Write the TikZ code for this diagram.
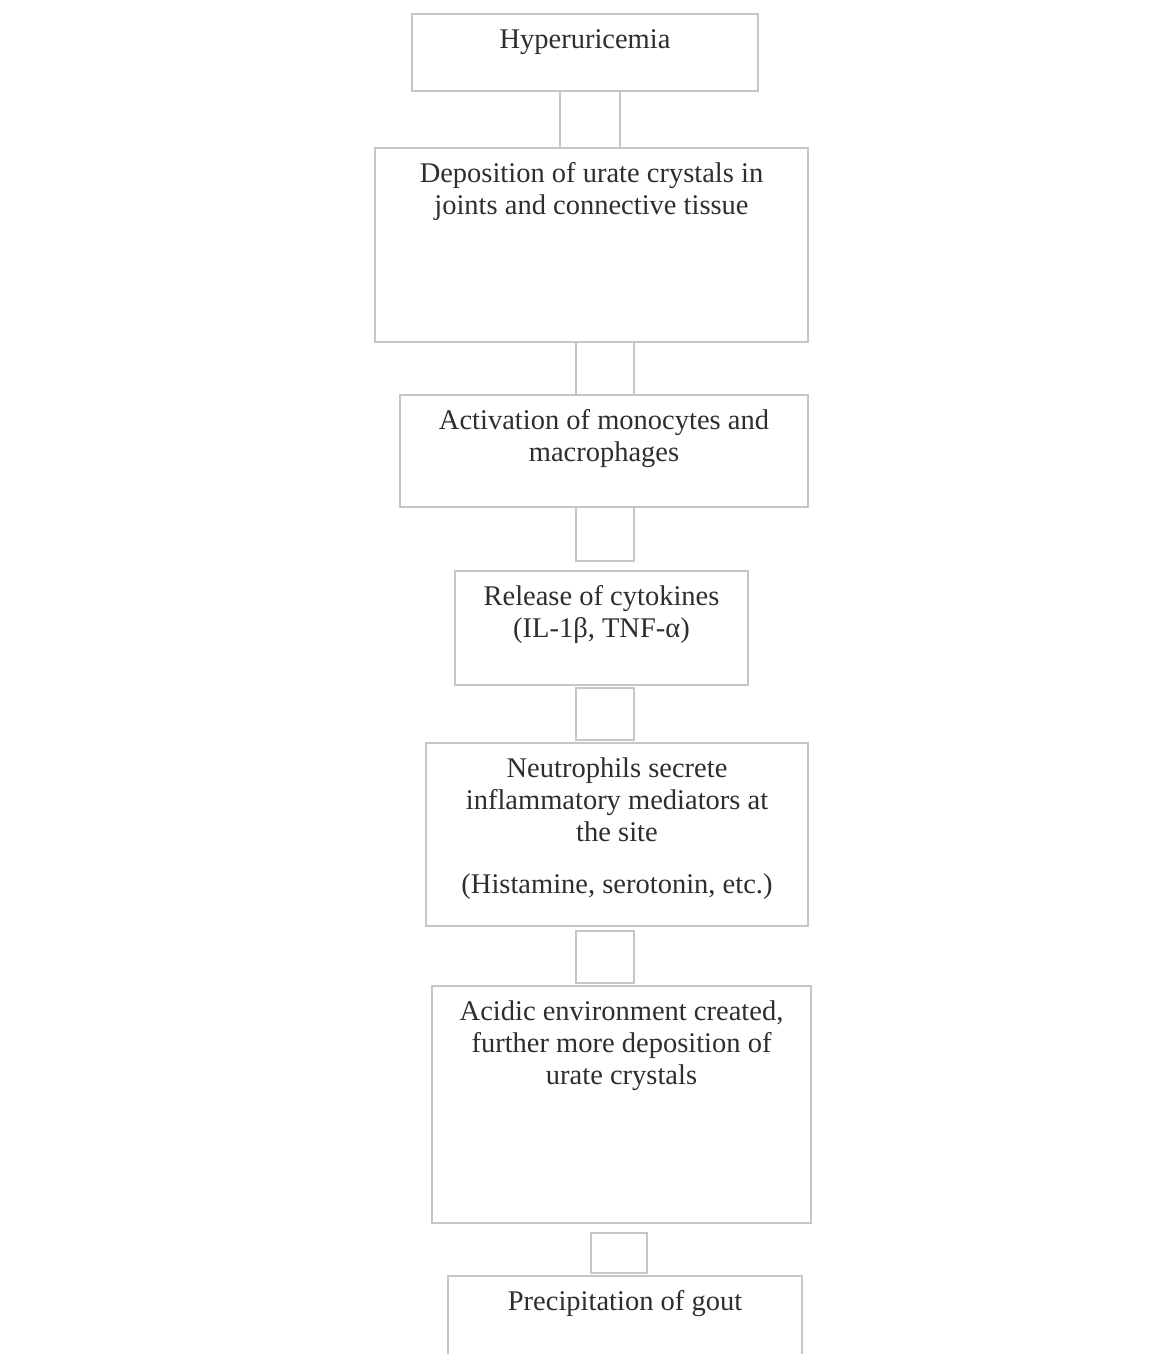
\documentclass[tikz,border=0pt]{standalone}
\usepackage{fontspec}
\setmainfont{Liberation Serif}
\definecolor{linegray}{HTML}{C6C6C6}
\definecolor{textgray}{HTML}{2E2E2E}
\begin{document}
\begin{tikzpicture}[x=1pt,y=-1pt,
  box/.style={draw=linegray, line width=1.1pt, fill=white, rectangle, inner sep=0pt},
  link/.style={draw=linegray, line width=1.1pt, fill=white, rectangle, inner sep=0pt},
  txt/.style={anchor=north, inner sep=0pt, align=center, text=textgray,
    font=\fontsize{28.5}{32}\selectfont, yshift=-12.4pt}]
\useasboundingbox[fill=white] (0,0) rectangle (1167,1354);
% boxes
\node[box, minimum width=346pt, minimum height=77pt]  (b1) at (585,52.5) {};
\node[link, minimum width=60pt, minimum height=57pt]  (c1) at (590,119.5) {};
\node[box, minimum width=433pt, minimum height=194pt] (b2) at (591.5,245) {};
\node[link, minimum width=58pt, minimum height=53pt]  (c2) at (605,368.5) {};
\node[box, minimum width=408pt, minimum height=112pt] (b3) at (604,451) {};
\node[link, minimum width=58pt, minimum height=54pt]  (c3) at (605,534) {};
\node[box, minimum width=293pt, minimum height=114pt] (b4) at (601.5,628) {};
\node[link, minimum width=58pt, minimum height=52pt]  (c4) at (605,714) {};
\node[box, minimum width=382pt, minimum height=183pt] (b5) at (617,834.5) {};
\node[link, minimum width=58pt, minimum height=52pt]  (c5) at (605,957) {};
\node[box, minimum width=379pt, minimum height=237pt] (b6) at (621.5,1104.5) {};
\node[link, minimum width=56pt, minimum height=40pt]  (c6) at (619,1253) {};
\node[box, minimum width=354pt, minimum height=86pt]  (b7) at (625,1319) {};
% texts
\node[txt] (t1) at (b1.north) {\strut Hyperuricemia};
\node[txt] (t2) at (b2.north) {\strut Deposition of urate crystals in\\joints and connective tissue};
\node[txt] (t3) at (b3.north) {\strut Activation of monocytes and\\macrophages};
\node[txt] (t4) at (b4.north) {\strut Release of cytokines\\(IL-1β, TNF-α)};
\node[txt] (t5) at (b5.north) {\strut Neutrophils secrete\\inflammatory mediators at\\the site\\[20pt](Histamine, serotonin, etc.)};
\node[txt] (t6) at (b6.north) {\strut Acidic environment created,\\further more deposition of\\urate crystals};
\node[txt] (t7) at (b7.north) {\strut Precipitation of gout};
\end{tikzpicture}
\end{document}
